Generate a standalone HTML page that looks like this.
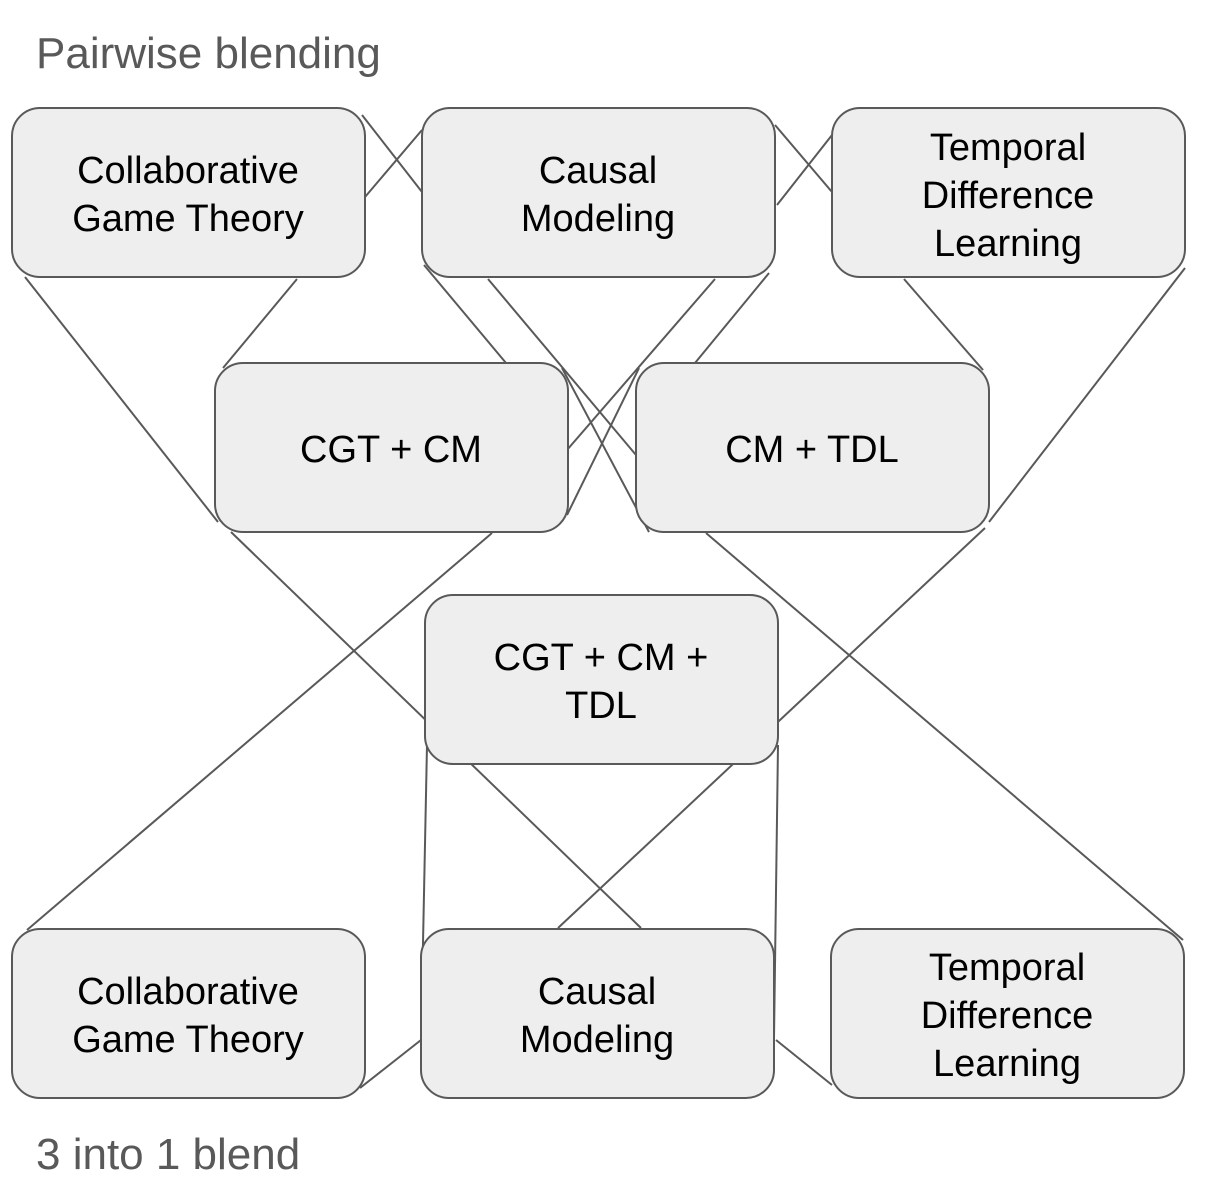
<!DOCTYPE html>
<html><head><meta charset="utf-8"><style>
html,body{margin:0;padding:0;background:#fff;}
svg{display:block;}
</style></head><body>
<svg width="1206" height="1196" viewBox="0 0 1206 1196" xmlns="http://www.w3.org/2000/svg" font-family="Liberation Sans, Arial, sans-serif">
<g stroke="#595959" stroke-width="2" fill="none">
<line x1="362" y1="115" x2="422" y2="192"/>
<line x1="365" y1="197" x2="422" y2="130"/>
<line x1="775" y1="125" x2="832" y2="192"/>
<line x1="777" y1="205" x2="832" y2="135"/>
<line x1="297" y1="279" x2="223" y2="368"/>
<line x1="424" y1="265" x2="506" y2="363"/>
<line x1="488" y1="279" x2="636" y2="455"/>
<line x1="715" y1="279" x2="567" y2="450"/>
<line x1="769" y1="273" x2="695" y2="363"/>
<line x1="904" y1="279" x2="983" y2="370"/>
<line x1="562" y1="368" x2="649" y2="532"/>
<line x1="639" y1="368" x2="567" y2="515"/>
<line x1="25" y1="277" x2="218" y2="522"/>
<line x1="1185" y1="268" x2="989" y2="522"/>
<line x1="231" y1="532" x2="641" y2="928"/>
<line x1="492" y1="533" x2="27" y2="930"/>
<line x1="706" y1="533" x2="1183" y2="940"/>
<line x1="985" y1="528" x2="558" y2="928"/>
<line x1="427" y1="745" x2="421" y2="1042"/>
<line x1="778" y1="745" x2="774" y2="1038"/>
<line x1="360" y1="1088" x2="421" y2="1040"/>
<line x1="776" y1="1040" x2="832" y2="1085"/>
</g>
<g fill="#eeeeee" stroke="#595959" stroke-width="2">
<rect x="12" y="108" width="353" height="169" rx="28"/>
<rect x="422" y="108" width="353" height="169" rx="28"/>
<rect x="832" y="108" width="353" height="169" rx="28"/>
<rect x="215" y="363" width="353" height="169" rx="28"/>
<rect x="636" y="363" width="353" height="169" rx="28"/>
<rect x="425" y="595" width="353" height="169" rx="28"/>
<rect x="12" y="929" width="353" height="169" rx="28"/>
<rect x="421" y="929" width="353" height="169" rx="28"/>
<rect x="831" y="929" width="353" height="169" rx="28"/>
</g>
<g fill="#000" font-size="38" text-anchor="middle">
<text x="188" y="183">Collaborative</text><text x="188" y="231">Game Theory</text>
<text x="598" y="183">Causal</text><text x="598" y="231">Modeling</text>
<text x="1008" y="160">Temporal</text><text x="1008" y="208">Difference</text><text x="1008" y="256">Learning</text>
<text x="391" y="462">CGT + CM</text>
<text x="812" y="462">CM + TDL</text>
<text x="601" y="670">CGT + CM +</text><text x="601" y="718">TDL</text>
<text x="188" y="1004">Collaborative</text><text x="188" y="1052">Game Theory</text>
<text x="597" y="1004">Causal</text><text x="597" y="1052">Modeling</text>
<text x="1007" y="980">Temporal</text><text x="1007" y="1028">Difference</text><text x="1007" y="1076">Learning</text>
</g>
<g fill="#595959" font-size="44">
<text x="36" y="68">Pairwise blending</text>
<text x="36" y="1169">3 into 1 blend</text>
</g>
</svg>
</body></html>
